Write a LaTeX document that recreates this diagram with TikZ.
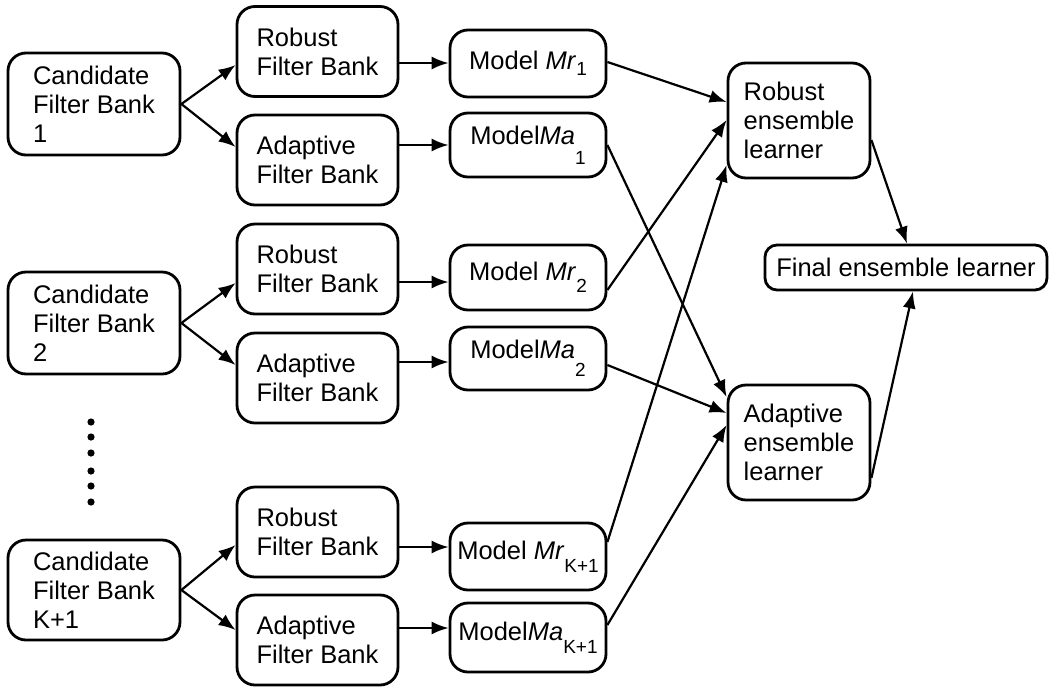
\documentclass[tikz,border=0pt]{standalone}
\usepackage{fontspec}
\setmainfont{Liberation Sans}
\usetikzlibrary{arrows.meta}
\newcommand\fs{\fontsize{25.5}{29}\selectfont}
\newcommand\lowsub[2]{\raisebox{-#1}{\fontsize{19}{19}\selectfont #2}}
\begin{document}
\begin{tikzpicture}[x=1pt,y=-1pt,
  box/.style={draw, line width=2.8pt, rounded corners=18pt, align=left, inner sep=0pt, font=\fs},
  mbox/.style={box, align=center, minimum width=156pt},
  fbox/.style={box, minimum width=161pt, minimum height=90pt},
  arr/.style={line width=2.2pt, -{Latex[length=17pt,width=13pt]}}]
\useasboundingbox (0,0) rectangle (1052,686);
% candidate filter banks
\node[box, minimum width=172pt, minimum height=102pt] (c1) at (94,104) {Candidate\\Filter Bank\\1};
\node[box, minimum width=172pt, minimum height=102pt] (c2) at (94,323) {Candidate\\Filter Bank\\2};
\node[box, minimum width=172pt, minimum height=100pt] (ck) at (94,590) {Candidate\\Filter Bank\\K+1};
% filter banks
\node[fbox] (rfb1) at (317.5,51.5) {Robust\\Filter Bank};
\node[fbox] (afb1) at (317.5,160) {Adaptive\\Filter Bank};
\node[fbox] (rfb2) at (317.5,269) {Robust\\Filter Bank};
\node[fbox] (afb2) at (317.5,378) {Adaptive\\Filter Bank};
\node[fbox] (rfbk) at (317.5,532) {Robust\\Filter Bank};
\node[fbox] (afbk) at (317.5,640) {Adaptive\\Filter Bank};
% models
\node[mbox, minimum height=67pt] (mr1) at (528,63.5) {Model \textit{Mr}\lowsub{6pt}{1}};
\node[mbox, minimum height=64pt] (ma1) at (528,145) {Model\textit{Ma}\lowsub{20pt}{1}};
\node[mbox, minimum height=65pt] (mr2) at (528,277.5) {Model \textit{Mr}\lowsub{12pt}{2}};
\node[mbox, minimum height=63pt] (ma2) at (528,358.5) {Model\textit{Ma}\lowsub{18pt}{2}};
\node[mbox, minimum height=67pt] (mrk) at (528,556.5) {Model \textit{Mr}\lowsub{13pt}{K+1}};
\node[mbox, minimum height=69pt] (mak) at (528,637.5) {Model\textit{Ma}\lowsub{13pt}{K+1}};
% ensembles
\node[box, minimum width=142pt, minimum height=115pt] (rens) at (799,120.5) {Robust\\ensemble\\learner};
\node[box, minimum width=142pt, minimum height=115pt] (aens) at (799,442.5) {Adaptive\\ensemble\\learner};
\node[box, align=center, rounded corners=12pt, minimum width=282pt, minimum height=45pt] (fin) at (906,267.5) {Final ensemble learner};
% dots
\foreach \y in {422,437,453,471,486,502} \fill (91,\y) circle (3.6pt);
% candidate -> filter banks
\draw[arr] (c1.east) -- (rfb1.west |- 0,65);
\draw[arr] (c1.east) -- (afb1.west |- 0,147);
\draw[arr] (c2.east) -- (rfb2.west |- 0,283);
\draw[arr] (c2.east) -- (afb2.west |- 0,365);
\draw[arr] (ck.east) -- (rfbk.west |- 0,545);
\draw[arr] (ck.east) -- (afbk.west |- 0,630);
% filter banks -> models
\draw[arr] (rfb1.east |- 0,63) -- (mr1.west |- 0,63);
\draw[arr] (afb1.east |- 0,145) -- (ma1.west |- 0,145);
\draw[arr] (rfb2.east |- 0,282) -- (mr2.west |- 0,282);
\draw[arr] (afb2.east |- 0,362) -- (ma2.west |- 0,362);
\draw[arr] (rfbk.east |- 0,547) -- (mrk.west |- 0,547);
\draw[arr] (afbk.east |- 0,628) -- (mak.west |- 0,628);
% models -> ensembles
\draw[arr] (mr1.east |- 0,62) -- (rens.west |- 0,102);
\draw[arr] (mr2.east |- 0,290) -- (rens.west |- 0,120);
\draw[arr] (mrk.east |- 0,542) -- (rens.west |- 0,165);
\draw[arr] (ma1.east |- 0,145) -- (aens.west |- 0,397);
\draw[arr] (ma2.east |- 0,365) -- (aens.west |- 0,413);
\draw[arr] (mak.east |- 0,625) -- (aens.west |- 0,425);
% ensembles -> final
\draw[arr] (rens.east |- 0,140) -- (fin.north -| 907,0);
\draw[arr] (aens.east |- 0,478) -- (fin.south -| 913,0);
\end{tikzpicture}
\end{document}
